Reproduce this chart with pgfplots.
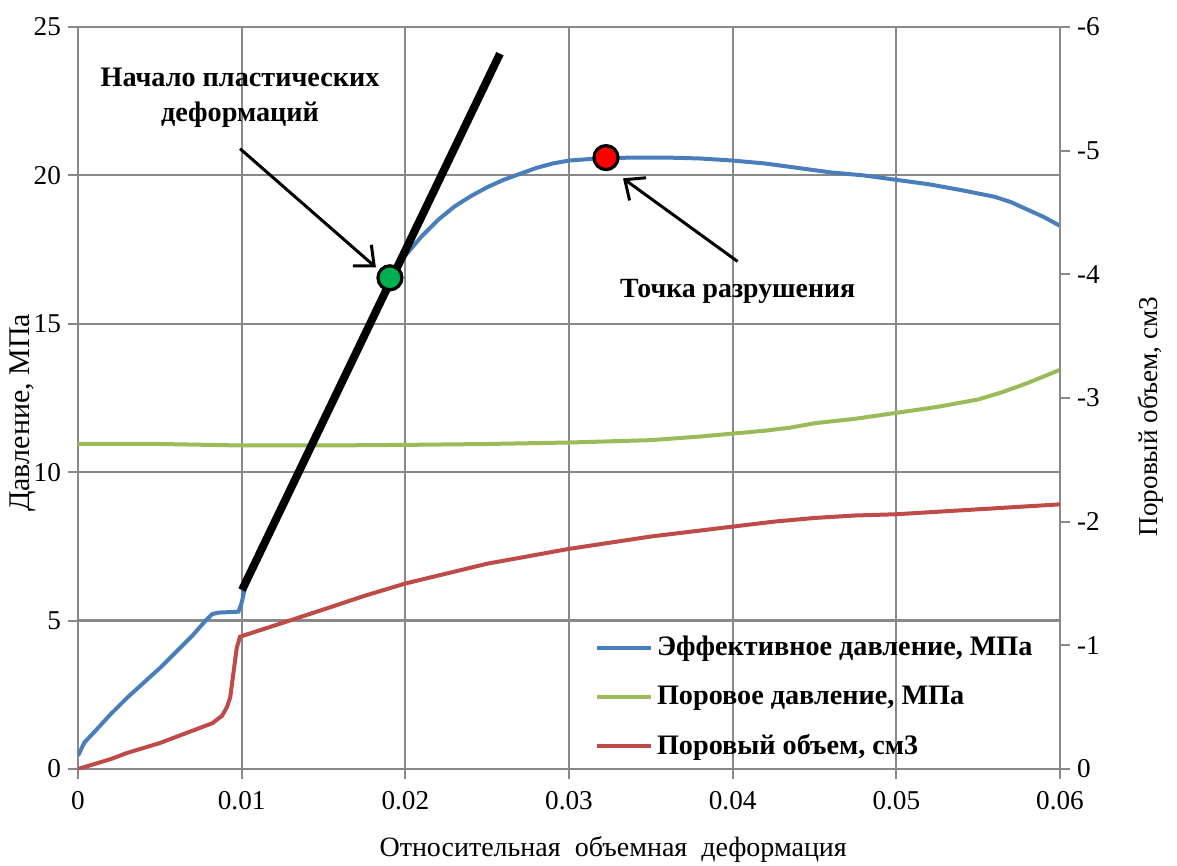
\documentclass[border=0pt]{standalone}
\usepackage{pgfplots}
\pgfplotsset{compat=1.18}
\usepackage{fontspec}
\setmainfont{Liberation Serif}
\usetikzlibrary{arrows.meta}
\definecolor{cblue}{HTML}{4A7EBB}
\definecolor{cgreen}{HTML}{9BBB59}
\definecolor{cred}{HTML}{BE4B48}
\definecolor{cgrid}{HTML}{898989}
\definecolor{mgreen}{HTML}{00B050}
\definecolor{mred}{HTML}{FF0000}
\begin{document}
\begin{tikzpicture}
\useasboundingbox (-39pt,-48.5pt) rectangle (549.5pt,384.5pt);
\begin{axis}[scale only axis, width=491pt, height=371pt, at={(0,0)}, anchor=south west,
  xmin=0, xmax=0.06, ymin=0, ymax=25,
  scaled x ticks=false,
  xtick={0,0.01,0.02,0.03,0.04,0.05,0.06},
  xticklabels={0,0.01,0.02,0.03,0.04,0.05,0.06},
  ytick={0,5,10,15,20,25}, yticklabels={0,5,10,15,20,25},
  xtick pos=bottom, ytick pos=left,
  tick align=outside, major tick length=5pt,
  tick style={cgrid, line width=1pt},
  grid=major, grid style={cgrid, line width=1.1pt},
  axis line style={cgrid, line width=1.1pt},
  tick label style={font=\fontsize{13.6}{15}\selectfont},
  xticklabel style={yshift=-2.5pt},
  xlabel={Относительная \ объемная \ деформация},
  ylabel={Давление, МПа},
  xlabel style={at={(axis description cs:0.545,-0.109)}, anchor=center, font=\fontsize{14}{16}\selectfont},
  ylabel style={at={(axis description cs:-0.056,0.48)}, anchor=center, font=\fontsize{15}{16}\selectfont},
]
\addplot[cgreen, line width=2pt] coordinates {
(0,10.95) (0.005,10.95) (0.01,10.9) (0.015,10.9) (0.02,10.92) (0.025,10.95)
(0.03,11.0) (0.035,11.08) (0.038,11.2) (0.04,11.3) (0.042,11.4) (0.0435,11.5)
(0.045,11.65) (0.0475,11.8) (0.05,12.0) (0.0525,12.2) (0.055,12.45) (0.0565,12.7)
(0.058,13.0) (0.06,13.45)};
\addplot[cblue, line width=2pt] coordinates {
(0,0.45) (0.0004,0.9) (0.001,1.25) (0.002,1.85) (0.003,2.4) (0.004,2.9) (0.005,3.4)
(0.006,3.95) (0.007,4.5) (0.0078,5.0) (0.0082,5.22) (0.0086,5.27) (0.0098,5.3)
(0.0100,5.6) (0.0102,6.1) (0.0191,16.55) (0.0200,17.3) (0.0210,17.95) (0.0220,18.5)
(0.0230,18.95) (0.0240,19.3) (0.0250,19.6) (0.0260,19.85) (0.0270,20.05) (0.0280,20.25)
(0.0290,20.4) (0.0300,20.5) (0.0320,20.58) (0.0340,20.6) (0.0360,20.6) (0.0380,20.57)
(0.0400,20.5) (0.0420,20.4) (0.0440,20.25) (0.0460,20.1) (0.0480,20.0) (0.0500,19.85)
(0.0520,19.7) (0.0540,19.5) (0.0560,19.28) (0.0570,19.1) (0.0580,18.85) (0.0590,18.6) (0.0600,18.3)};
\addplot[black, line width=4pt] coordinates {(0.01002,6.03) (0.02578,24.1)};
\addplot[only marks, mark=*, mark size=6pt, mark options={fill=mgreen, draw=black, line width=1.6pt}] coordinates {(0.01906,16.55)};
\addplot[only marks, mark=*, mark size=6pt, mark options={fill=mred, draw=black, line width=1.6pt}] coordinates {(0.03226,20.6)};
\draw[line width=1.5pt, -{Straight Barb[length=8pt,width=14pt]}] (axis cs:0.0099,20.9) -- (axis cs:0.0182,16.9);
\draw[line width=1.5pt, -{Straight Barb[length=8pt,width=14pt]}] (axis cs:0.0403,17.1) -- (axis cs:0.0333,19.9);
\node[align=center, font=\bfseries\fontsize{14.1}{17.5}\selectfont] at (axis cs:0.0099,22.6) {Начало пластических\\деформаций};
\node[font=\bfseries\fontsize{13.9}{17}\selectfont] at (axis cs:0.0403,16.1) {Точка разрушения};
\end{axis}
\begin{axis}[scale only axis, width=491pt, height=371pt, at={(0,0)}, anchor=south west,
  xmin=0, xmax=0.06, ymin=-6, ymax=0, y dir=reverse,
  axis x line=none, axis y line*=right,
  ytick={0,-1,-2,-3,-4,-5,-6}, yticklabels={0,-1,-2,-3,-4,-5,-6},
  tick align=outside, major tick length=5pt,
  tick style={cgrid, line width=1pt},
  axis line style={cgrid, line width=1.1pt},
  tick label style={font=\fontsize{13.6}{15}\selectfont},
  ylabel={Поровый объем, см3},
  ylabel style={at={(axis description cs:1.092,0.475)}, anchor=center, font=\fontsize{13.6}{16}\selectfont},
  legend style={draw=none, fill=none, at={(axis description cs:0.52,0.19)}, anchor=north west,
    font=\bfseries\fontsize{14.1}{16}\selectfont, row sep=9.5pt},
  legend cell align=left,
  legend image code/.code={\draw[#1] (0pt,0pt) -- (27pt,0pt);},
]
\addlegendimage{cblue, line width=2pt}
\addlegendentry{Эффективное давление, МПа}
\addlegendimage{cgreen, line width=2pt}
\addlegendentry{Поровое давление, МПа}
\addplot[cred, line width=2pt] coordinates {
(0,0) (0.001,-0.04) (0.002,-0.08) (0.003,-0.13) (0.004,-0.17) (0.005,-0.21) (0.006,-0.26)
(0.007,-0.31) (0.0082,-0.37) (0.0088,-0.43) (0.0091,-0.5) (0.0093,-0.58) (0.0095,-0.78)
(0.0097,-0.98) (0.0099,-1.07) (0.012,-1.16) (0.015,-1.29) (0.0175,-1.4) (0.02,-1.5)
(0.0225,-1.58) (0.025,-1.66) (0.0275,-1.72) (0.03,-1.78) (0.0325,-1.83) (0.035,-1.88)
(0.0375,-1.92) (0.04,-1.96) (0.0425,-2.0) (0.045,-2.03) (0.0475,-2.05) (0.05,-2.06)
(0.0525,-2.08) (0.055,-2.1) (0.0575,-2.12) (0.06,-2.14)};
\addlegendentry{Поровый объем, см3}
\end{axis}
\end{tikzpicture}
\end{document}
